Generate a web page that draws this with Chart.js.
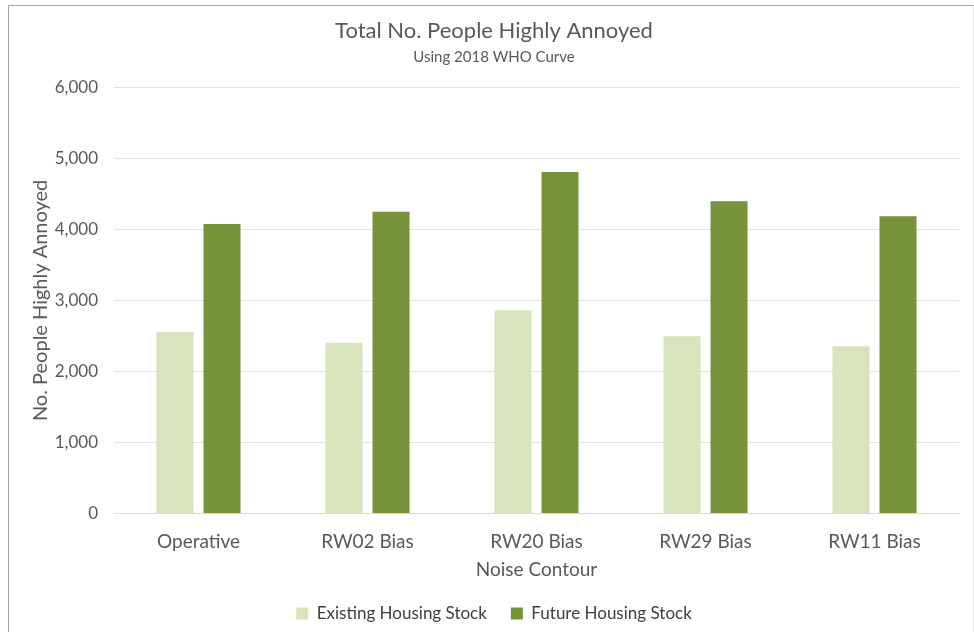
<!DOCTYPE html>
<html>
<head>
<meta charset="utf-8">
<script src="https://cdn.jsdelivr.net/npm/chart.js@4"></script>
<style>
  html, body { margin: 0; padding: 0; background: #fff; }
  #frame {
    position: absolute; left: 8px; top: 5px; width: 964px; height: 627px;
    border-left: 1px solid #a6a6a6; border-top: 1px solid #a6a6a6; border-right: 1px solid #e6e6e6;
    background: #fff;
  }
  #wrap { position: absolute; left: 0; top: 0; width: 964px; height: 627px; }
</style>
</head>
<body>
<div id="frame"><div id="wrap"><canvas id="chart1"></canvas></div></div>
<script>
var contours = ['Operative', 'RW02 Bias', 'RW20 Bias', 'RW29 Bias', 'RW11 Bias'];
var existingStock = [2555, 2405, 2860, 2495, 2355];
var futureStock = [4075, 4250, 4810, 4395, 4185];
var yTicks = [0, 1000, 2000, 3000, 4000, 5000, 6000];

var fontFamily = 'Lato, "Open Sans", sans-serif';
var textGray = '#595959';

var ctx = document.getElementById('chart1').getContext('2d');
var myChart = new Chart(ctx, {
    type: 'bar',
    data: {
        labels: contours,
        datasets: [{
            label: 'Existing Housing Stock',
            data: existingStock,
            backgroundColor: '#d8e4bc',
            borderWidth: 0
        }, {
            label: 'Future Housing Stock',
            data: futureStock,
            backgroundColor: '#77933c',
            borderWidth: 0
        }]
    },
    options: {
        responsive: true,
        maintainAspectRatio: false,
        animation: false,
        layout: { padding: { left: 20, right: 14, top: 8, bottom: 1 } },
        datasets: {
            bar: { categoryPercentage: 0.557, barPercentage: 0.787 }
        },
        scales: {
            x: {
                grid: { display: false, drawTicks: false },
                border: { display: true, color: '#d9d9d9' },
                ticks: { color: textGray, font: { family: fontFamily, size: 19 }, padding: 17 },
                title: { display: true, text: 'Noise Contour', color: textGray, font: { family: fontFamily, size: 19 }, padding: { top: -12, bottom: 0 } }
            },
            y: {
                min: 0,
                max: 6000,
                afterBuildTicks: function (scale) {
                    scale.ticks = yTicks.map(function (v) { return { value: v }; });
                },
                afterFit: function (scale) { scale.width = 85; },
                grid: { color: '#e3e3e3', lineWidth: 1, drawTicks: false },
                border: { display: false },
                ticks: {
                    color: textGray,
                    font: { family: fontFamily, size: 17 },
                    padding: 16,
                    callback: function (v) { return v.toLocaleString('en-US'); }
                },
                title: { display: true, text: 'No. People Highly Annoyed', color: textGray, font: { family: fontFamily, size: 20 }, padding: { top: 0, bottom: 4 } }
            }
        },
        plugins: {
            title: {
                display: true,
                text: 'Total No. People Highly Annoyed',
                color: textGray,
                font: { family: fontFamily, size: 22, weight: 'normal' },
                padding: { top: 4, bottom: 4 }
            },
            subtitle: {
                display: true,
                text: 'Using 2018 WHO Curve',
                color: textGray,
                font: { family: fontFamily, size: 15 },
                padding: { bottom: 21 }
            },
            legend: {
                position: 'bottom',
                labels: {
                    color: '#404040',
                    font: { family: fontFamily, size: 17 },
                    boxWidth: 12,
                    boxHeight: 12,
                    padding: 24
                }
            },
            tooltip: { enabled: false }
        }
    }
});
</script>
</body>
</html>
